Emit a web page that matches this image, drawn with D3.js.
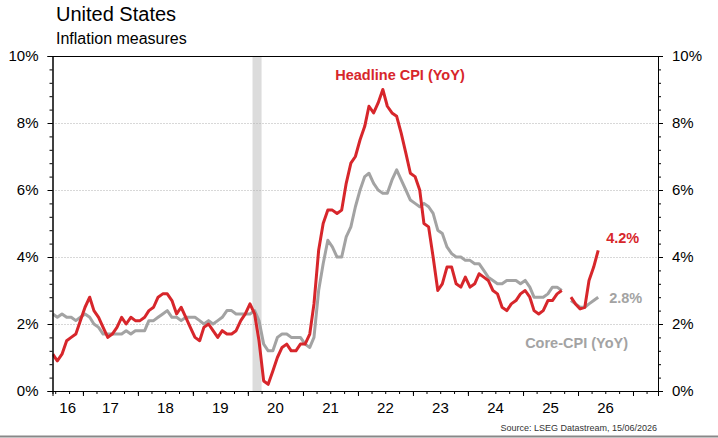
<!DOCTYPE html>
<html>
<head>
<meta charset="utf-8">
<script src="https://cdn.jsdelivr.net/npm/d3@7"></script>
<style>
    body { margin: 0; background: #fff; }
    svg { display: block; font-family: "Liberation Sans", Arial, sans-serif; }
    .axis path, .axis line { stroke: #000; }
    .axis text { font-size: 15px; fill: #000; }
</style>
</head>
<body>
<div id="chart"></div>
<script>
// monthly YoY, first month Jun 2016, last May 2026 (Oct 2025 not published)
var startMonth = "2016-06";
var headline = [
    1.1, 0.9, 1.1, 1.5, 1.6, 1.7, 2.1,
    2.5, 2.8, 2.4, 2.2, 1.9, 1.6, 1.7, 1.9, 2.2, 2.0, 2.2, 2.1,
    2.1, 2.2, 2.4, 2.5, 2.8, 2.9, 2.9, 2.7, 2.3, 2.5, 2.2, 1.9,
    1.6, 1.5, 1.9, 2.0, 1.8, 1.6, 1.8, 1.7, 1.7, 1.8, 2.1, 2.3,
    2.6, 2.3, 1.5, 0.3, 0.2, 0.6, 1.0, 1.3, 1.4, 1.2, 1.2, 1.4,
    1.4, 1.7, 2.6, 4.2, 5.0, 5.4, 5.4, 5.3, 5.4, 6.2, 6.8, 7.0,
    7.5, 7.9, 8.5, 8.3, 8.6, 9.0, 8.5, 8.3, 8.2, 7.7, 7.1, 6.5,
    6.4, 6.0, 5.0, 4.9, 4.0, 3.0, 3.2, 3.7, 3.7, 3.2, 3.1, 3.4,
    3.1, 3.2, 3.5, 3.4, 3.3, 3.0, 2.9, 2.5, 2.4, 2.6, 2.7, 2.9,
    3.0, 2.8, 2.4, 2.3, 2.4, 2.7, 2.7, 2.9, 3.0, null, 2.8, 2.6,
    2.45, 2.5, 3.3, 3.7, 4.2
];
var core = [
    2.3, 2.2, 2.3, 2.2, 2.2, 2.1, 2.2,
    2.3, 2.2, 2.0, 1.9, 1.7, 1.7, 1.7, 1.7, 1.7, 1.8, 1.7, 1.8,
    1.8, 1.8, 2.1, 2.1, 2.2, 2.3, 2.4, 2.2, 2.2, 2.1, 2.2, 2.2,
    2.2, 2.1, 2.0, 2.1, 2.0, 2.1, 2.2, 2.4, 2.4, 2.3, 2.3, 2.3,
    2.3, 2.4, 2.1, 1.4, 1.2, 1.2, 1.6, 1.7, 1.7, 1.6, 1.6, 1.6,
    1.4, 1.3, 1.6, 3.0, 3.8, 4.5, 4.3, 4.0, 4.0, 4.6, 4.9, 5.5,
    6.0, 6.4, 6.5, 6.2, 6.0, 5.9, 5.9, 6.3, 6.6, 6.3, 6.0, 5.7,
    5.6, 5.5, 5.6, 5.5, 5.3, 4.8, 4.7, 4.3, 4.1, 4.0, 4.0, 3.9,
    3.9, 3.8, 3.8, 3.6, 3.4, 3.3, 3.2, 3.2, 3.3, 3.3, 3.3, 3.2,
    3.3, 3.1, 2.8, 2.8, 2.8, 2.9, 3.1, 3.1, 3.0, null, 2.7, 2.6,
    2.5, 2.5, 2.6, 2.7, 2.8
];
var recession = ["2020-02-01", "2020-04-01"];
var yearLabels = [2016, 2017, 2018, 2019, 2020, 2021, 2022, 2023, 2024, 2025, 2026];
var yTicks = [0, 2, 4, 6, 8, 10];

var W = 718, H = 438;
var margin = { top: 56, right: 60, bottom: 47, left: 52.5 };
var red = "#d7262b", grey = "#a3a3a3";

var parse = d3.timeParse("%Y-%m-%d");
var m0 = d3.timeParse("%Y-%m")(startMonth);
function monthDate(i) {
    var d = d3.timeMonth.offset(m0, i);
    return new Date(d.getFullYear(), d.getMonth(), 15);
}
var headlineData = headline.map((v, i) => ({ date: monthDate(i), value: v }));
var coreData = core.map((v, i) => ({ date: monthDate(i), value: v }));

var x = d3.scaleTime()
    .domain([new Date(2016, 5, 13), new Date(2027, 5, 16)])
    .range([margin.left, 658]);
var y = d3.scaleLinear()
    .domain([0, 10])
    .range([H - margin.bottom, margin.top]);

var svg = d3.select("#chart").append("svg")
    .attr("width", W)
    .attr("height", H);

// titles
svg.append("text").attr("x", 56).attr("y", 21)
    .style("font-size", "20px").text("United States");
svg.append("text").attr("x", 56).attr("y", 44)
    .style("font-size", "16px").text("Inflation measures");

// recession shading
svg.append("rect")
    .attr("x", x(parse(recession[0])))
    .attr("width", x(parse(recession[1])) - x(parse(recession[0])))
    .attr("y", y(10))
    .attr("height", y(0) - y(10))
    .attr("fill", "#dcdcdc");

// dotted gridlines
svg.append("g").selectAll("line")
    .data(yTicks.filter(d => d > 0 && d < 10))
    .join("line")
    .attr("x1", x.range()[0]).attr("x2", x.range()[1])
    .attr("y1", d => y(d) + 0.5).attr("y2", d => y(d) + 0.5)
    .attr("stroke", "#b0b0b0")
    .attr("stroke-dasharray", "1,2");

// top border
svg.append("line")
    .attr("x1", x.range()[0]).attr("x2", x.range()[1])
    .attr("y1", y(10) + 0.5).attr("y2", y(10) + 0.5)
    .attr("stroke", "#000");

// lines
var clip = svg.append("clipPath").attr("id", "plot")
    .append("rect")
    .attr("x", x.range()[0]).attr("y", y(10))
    .attr("width", x.range()[1] - x.range()[0]).attr("height", y(0) - y(10));

var line = d3.line()
    .defined(d => d.value != null)
    .x(d => x(d.date))
    .y(d => y(d.value));

var lines = svg.append("g").attr("clip-path", "url(#plot)");
lines.append("path").datum(coreData)
    .attr("d", line)
    .attr("fill", "none").attr("stroke", grey)
    .attr("stroke-width", 3).attr("stroke-linejoin", "round");
lines.append("path").datum(headlineData)
    .attr("d", line)
    .attr("fill", "none").attr("stroke", red)
    .attr("stroke-width", 3).attr("stroke-linejoin", "round");

// y axes, major and minor ticks
var minorY = d3.range(0, 10.001, 0.4);
svg.append("g").attr("class", "axis")
    .attr("transform", "translate(" + x.range()[0] + ",0)")
    .call(d3.axisLeft(y).tickValues(minorY).tickSize(3).tickFormat(""));
svg.append("g").attr("class", "axis")
    .attr("transform", "translate(" + x.range()[0] + ",0)")
    .call(d3.axisLeft(y).tickValues(yTicks).tickSize(5).tickPadding(9).tickFormat(d => d + "%"));
svg.append("g").attr("class", "axis")
    .attr("transform", "translate(" + x.range()[1] + ",0)")
    .call(d3.axisRight(y).tickValues(minorY).tickSize(3).tickFormat(""));
svg.append("g").attr("class", "axis")
    .attr("transform", "translate(" + x.range()[1] + ",0)")
    .call(d3.axisRight(y).tickValues(yTicks).tickSize(5).tickPadding(9).tickFormat(d => d + "%"));

// x axis: year ticks, quarter ticks, labels centred in each year
var xa = svg.append("g").attr("class", "axis")
    .attr("transform", "translate(0," + y(0) + ")");
xa.call(d3.axisBottom(x).ticks(d3.timeMonth.every(3)).tickSize(3).tickFormat(""));
svg.append("g").attr("class", "axis")
    .attr("transform", "translate(0," + y(0) + ")")
    .call(d3.axisBottom(x).ticks(d3.timeYear.every(1)).tickSize(5).tickFormat(""));

svg.append("g").selectAll("text")
    .data(yearLabels)
    .join("text")
    .attr("x", function (d) {
        var a = Math.max(x(new Date(d, 0, 1)), x.range()[0]);
        var b = Math.min(x(new Date(d + 1, 0, 1)), x.range()[1]);
        return (a + b) / 2;
    })
    .attr("y", 413)
    .attr("text-anchor", "middle")
    .style("font-size", "15px")
    .text(d => String(d).slice(2));

// series labels
var lastH = headlineData[headlineData.length - 1];
var lastC = coreData[coreData.length - 1];
svg.append("text").attr("x", 400).attr("y", 80)
    .attr("text-anchor", "middle")
    .style("font-size", "14.5px").style("font-weight", "bold").attr("fill", red)
    .text("Headline CPI (YoY)");
svg.append("text").attr("x", 628).attr("y", 348)
    .attr("text-anchor", "end")
    .style("font-size", "14.5px").style("font-weight", "bold").attr("fill", grey)
    .text("Core-CPI (YoY)");
svg.append("text").attr("x", x(lastH.date) + 8).attr("y", y(lastH.value) - 7)
    .style("font-size", "14.5px").style("font-weight", "bold").attr("fill", red)
    .text(lastH.value.toFixed(1) + "%");
svg.append("text").attr("x", x(lastC.date) + 11).attr("y", y(lastC.value) + 6)
    .style("font-size", "14.5px").style("font-weight", "bold").attr("fill", grey)
    .text(lastC.value.toFixed(1) + "%");

// source and bottom rule
svg.append("text").attr("x", 657).attr("y", 431)
    .attr("text-anchor", "end")
    .style("font-size", "9px").attr("fill", "#333")
    .text("Source: LSEG Datastream, 15/06/2026");
svg.append("line")
    .attr("x1", 0).attr("x2", W)
    .attr("y1", 436.5).attr("y2", 436.5)
    .attr("stroke", "#888").attr("stroke-width", 2);
</script>
</body>
</html>
